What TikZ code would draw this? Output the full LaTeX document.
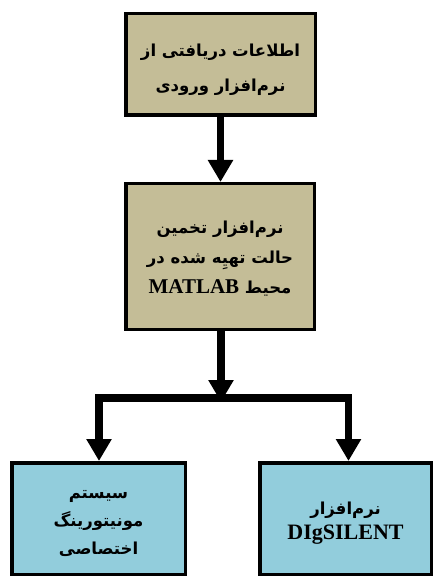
\documentclass[tikz,border=0pt]{standalone}
\usepackage{fontspec}
\usetikzlibrary{arrows.meta}
\TeXXeTstate=1
\newfontfamily\fa[Script=Arabic]{DejaVu Sans}
\newfontfamily\lat{Liberation Serif}
\definecolor{tanbox}{RGB}{196,189,151}
\definecolor{bluebox}{RGB}{146,205,220}
\begin{document}
\begin{tikzpicture}[x=1pt,y=-1pt,
  box/.style={draw=black, line width=3.5pt, inner sep=0pt},
  tanb/.style={box, fill=tanbox},
  blueb/.style={box, fill=bluebox},
  txt/.style={inner sep=0pt, align=center, font=\fa\bfseries\fontsize{16.5}{#1}\selectfont},
  arr/.style={line width=7.5pt, line join=miter,
    -{Triangle[width=24pt,length=22pt]}}]
\useasboundingbox[fill=white] (0,0) rectangle (434,577);
\node[tanb, minimum width=189.5pt, minimum height=101.5pt] (b1) at (220.5,64.5) {};
\node[tanb, minimum width=188.5pt, minimum height=145.5pt] (b2) at (220,256.5) {};
\node[blueb, minimum width=173.5pt, minimum height=111.5pt] (b3) at (98.5,518.5) {};
\node[blueb, minimum width=171.5pt, minimum height=111.5pt] (b4) at (345.5,518.5) {};
\node[txt=35] (t1) at ([yshift=-5pt]b1.center)
  {\beginR اطلاعات دریافتی از\endR\\\beginR نرم‌افزار ورودی\endR};
\node[txt=30] (t2) at ([yshift=-2.5pt]b2.center)
  {\beginR نرم‌افزار تخمین\endR\\\beginR حالت تهیِه شده در\endR\\\beginR محیط \beginL{\lat\fontsize{21}{30}\selectfont MATLAB}\endL\endR};
\node[txt=28] (t3) at ([yshift=-5pt]b3.center)
  {\beginR سیستم\endR\\\beginR مونیتورینگ\endR\\\beginR اختصاصی\endR};
\node[txt=25] (t4) at ([yshift=-5pt]b4.center)
  {\beginR نرم‌افزار\endR\\{\lat\fontsize{22}{25}\selectfont DIgSILENT}};
\coordinate (j) at (221,398);
\draw[arr] (b1.south) -- (b1.south |- b2.north);
\draw[arr] (b2.south -| j) -- ([yshift=-4pt]j);
\draw[arr] (j) -| ([xshift=0.5pt]b3.north);
\draw[arr] (j) -| ([xshift=3pt]b4.north);
\end{tikzpicture}
\end{document}
